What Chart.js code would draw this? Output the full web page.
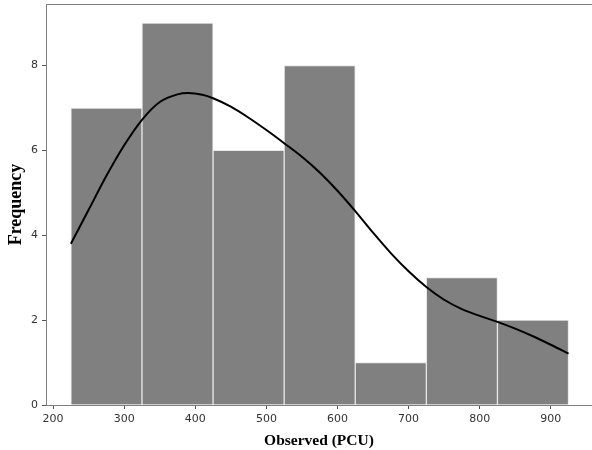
<!DOCTYPE html>
<html>
<head>
<meta charset="utf-8">
<script src="https://cdn.jsdelivr.net/npm/chart.js@4/dist/chart.umd.min.js"></script>
<style>
  html, body { margin: 0; padding: 0; background: #fff; overflow: hidden; }
  #wrap { width: 592px; height: 450px; }
</style>
</head>
<body>
<div id="wrap"><canvas id="histChart"></canvas></div>
<script>
// Histograma (centros das classes, largura 100)
const binCenters = [275, 375, 475, 575, 675, 775, 875];
const counts = [7, 9, 6, 8, 1, 3, 2];

// Curva KDE
const kdeX = [225, 250, 275, 300, 325, 350, 375, 390, 410, 425, 450, 475, 500, 525, 550, 575,
              600, 625, 650, 675, 700, 725, 750, 775, 800, 825, 850, 875, 900, 925];
const kdeY = [3.80, 4.60, 5.40, 6.12, 6.72, 7.14, 7.32, 7.35, 7.31, 7.23, 7.03, 6.77, 6.48, 6.17, 5.85, 5.48,
              5.05, 4.57, 4.06, 3.58, 3.15, 2.78, 2.48, 2.26, 2.10, 1.96, 1.80, 1.62, 1.42, 1.21];

// Ticks
const xTicks = [200, 300, 400, 500, 600, 700, 800, 900];
const yTicks = [0, 2, 4, 6, 8];

const tickFont = { family: 'DejaVu Sans', size: 11 };
const titleFont = { family: 'Liberation Serif', weight: 'bold' };

// moldura (spine de cima)
const frame = {
  id: 'frame',
  afterDraw(chart) {
    const { ctx, chartArea: a } = chart;
    ctx.save();
    ctx.strokeStyle = '#7f7f7f';
    ctx.lineWidth = 1;
    ctx.strokeRect(a.left + 0.5, a.top + 0.5, a.right - a.left, a.bottom - a.top);
    ctx.restore();
  }
};

new Chart(document.getElementById('histChart'), {
  type: 'bar',
  data: {
    datasets: [
      {
        type: 'line',
        label: 'KDE',
        data: kdeX.map((x, i) => ({ x, y: kdeY[i] })),
        borderColor: '#000',
        borderWidth: 2,
        pointRadius: 0,
        cubicInterpolationMode: 'monotone',
        fill: false,
        order: 0
      },
      {
        type: 'bar',
        label: 'Frequency',
        data: binCenters.map((x, i) => ({ x, y: counts[i] })),
        backgroundColor: '#808080',
        borderColor: '#e6e6e6',
        borderWidth: 1,
        barPercentage: 1,
        categoryPercentage: 1,
        order: 1
      }
    ]
  },
  options: {
    responsive: true,
    maintainAspectRatio: false,
    animation: false,
    layout: { padding: { top: 4, right: 0, bottom: 0, left: 0 } },
    plugins: { legend: { display: false }, tooltip: { enabled: false } },
    scales: {
      x: {
        type: 'linear',
        offset: false,
        min: 190,
        max: 958,
        afterBuildTicks: s => { s.ticks = xTicks.map(v => ({ value: v })); },
        afterFit: s => { s.height = 45; s.paddingLeft = 0; s.paddingRight = 0; },
        grid: { offset: false, drawOnChartArea: false, drawTicks: true, tickLength: 4, color: '#555' },
        border: { display: true, color: '#7f7f7f' },
        ticks: { color: '#333', font: tickFont, padding: 4, maxRotation: 0 },
        title: { display: true, text: 'Observed (PCU)', color: '#000',
                 font: { ...titleFont, size: 15.5 }, padding: { top: 0, bottom: 0 } }
      },
      y: {
        min: 0,
        max: 9.45,
        afterBuildTicks: s => { s.ticks = yTicks.map(v => ({ value: v })); },
        afterFit: s => { s.width = 46; s.paddingTop = 0; s.paddingBottom = 0; },
        grid: { drawOnChartArea: false, drawTicks: true, tickLength: 4, color: '#555' },
        border: { display: true, color: '#7f7f7f' },
        ticks: { color: '#333', font: tickFont, padding: 4 },
        title: { display: true, text: 'Frequency', color: '#000',
                 font: { ...titleFont, size: 18 }, padding: { top: 6, bottom: 0 } }
      }
    }
  },
  plugins: [frame]
});
</script>
</body>
</html>
